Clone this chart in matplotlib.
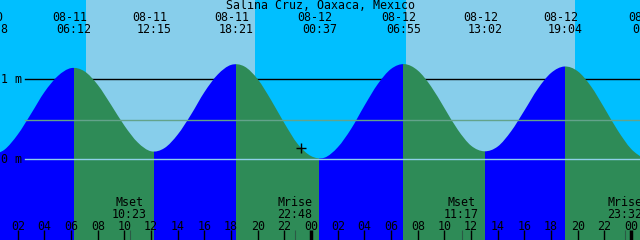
import matplotlib
matplotlib.use("Agg")
import matplotlib.pyplot as plt
from matplotlib.path import Path
from matplotlib.patches import PathPatch, Rectangle

# time axis: hours counted from 08-11 00:00
hours = list(range(0, 50))
level = [0.05, 0.12, 0.31, 0.57, 0.84, 1.04, 1.14, 1.10, 0.93, 0.68,
         0.42, 0.21, 0.10, 0.14, 0.31, 0.56, 0.84, 1.06, 1.18, 1.16,
         1.00, 0.74, 0.45, 0.19, 0.04, 0.02, 0.15, 0.38, 0.67, 0.94,
         1.13, 1.19, 1.11, 0.91, 0.64, 0.37, 0.17, 0.10, 0.16, 0.35,
         0.61, 0.88, 1.08, 1.16, 1.10, 0.91, 0.64, 0.36, 0.13, 0.00]

# high / low tides
tide_t = [-0.03, 6.2, 12.25, 18.35, 24.62, 30.92, 37.03, 43.07, 49.4]
tide_h = [0.05, 1.14, 0.10, 1.19, 0.01, 1.19, 0.095, 1.16, -0.01]
tide_date = ["08-10", "08-11", "08-11", "08-11", "08-12", "08-12", "08-12", "08-12", "08-13"]
tide_time = ["23:58", "06:12", "12:15", "18:21", "00:37", "06:55", "13:02", "19:04", "01:24"]

sunrise = [7.12, 31.12]
sunset = [19.79, 43.79]

moon_t = [10.38, 22.8, 35.28, 47.53]
moon_event = ["Mset", "Mrise", "Mset", "Mrise"]
moon_time = ["10:23", "22:48", "11:17", "23:32"]

tick_hours = list(range(2, 49, 2))
tick_labels = ["%02d" % (h % 24) for h in tick_hours]

now_t, now_level = 23.23, 0.14
msl = 0.49
title = "Salina Cruz, Oaxaca, Mexico"

NIGHT = "#00BFFF"
DAY = "#87CEEB"
FLOOD = "#0000FF"
EBB = "#2E8B57"

T0, T1 = 0.667, 48.667
PX_H = 13.333          # pixels per hour
Y0, PX_M = 159.3, 80.0  # pixel row of 0 m, pixels per metre


def py(y):
    # pixel row -> metres
    return (Y0 - y) / PX_M


def px(x):
    # pixel column -> hours
    return T0 + x / PX_H


fig = plt.figure(figsize=(6.4, 2.4), dpi=100, facecolor=NIGHT)
ax = fig.add_axes([0, 0, 1, 1])
ax.set_xlim(T0, T1)
ax.set_ylim(py(240), py(0))
ax.axis("off")

for a, b in zip(sunrise, sunset):
    ax.axvspan(a, b, color=DAY, lw=0, zorder=0)

# 1 m line sits behind the water
ax.plot([px(25), T1], [1, 1], color="black", lw=1, zorder=1)

# smooth water surface through the hourly levels
n = len(hours)
tang = []
for i in range(n):
    lo, hi = max(i - 1, 0), min(i + 1, n - 1)
    tang.append((level[hi] - level[lo]) / (hours[hi] - hours[lo]))
verts = [(hours[0], level[0])]
codes = [Path.MOVETO]
for i in range(n - 1):
    d = hours[i + 1] - hours[i]
    verts += [(hours[i] + d / 3, level[i] + tang[i] * d / 3),
              (hours[i + 1] - d / 3, level[i + 1] - tang[i + 1] * d / 3),
              (hours[i + 1], level[i + 1])]
    codes += [Path.CURVE4] * 3
verts += [(hours[-1], -3), (hours[0], -3), (hours[0], level[0])]
codes += [Path.LINETO, Path.LINETO, Path.CLOSEPOLY]
water = Path(verts, codes)

# rising water blue, falling water green
for k in range(len(tide_t) - 1):
    col = FLOOD if tide_h[k + 1] > tide_h[k] else EBB
    patch = PathPatch(water, facecolor=col, edgecolor="none", zorder=2)
    ax.add_patch(patch)
    clip = Rectangle((tide_t[k], -3), tide_t[k + 1] - tide_t[k], 6,
                     transform=ax.transData)
    patch.set_clip_path(clip)

ax.plot([px(25), T1], [msl, msl], color="#63a38b", lw=1, zorder=4)
ax.plot([px(25), T1], [0, 0], color="#8fd0ea", lw=1, zorder=4)

ax.plot(now_t, now_level, marker="+", ms=6.5, mew=1, color="black", zorder=5)

fnt = dict(family="DejaVu Sans Mono", fontsize=8.4, color="black", zorder=6)

ax.text(0.5, py(9), title, ha="center", va="baseline",
        transform=ax.get_yaxis_transform(), **fnt)

for t, d, s in zip(tide_t, tide_date, tide_time):
    ax.text(t - 4.5 / PX_H, py(21), d, ha="center", va="baseline", **fnt)
    ax.text(t, py(33), s, ha="center", va="baseline", **fnt)

ax.text(px(1), py(83), "1 m", ha="left", va="baseline", **fnt)
ax.text(px(1), py(163), "0 m", ha="left", va="baseline", **fnt)

for t, e, s in zip(moon_t, moon_event, moon_time):
    ax.text(t, py(206), e, ha="center", va="baseline", **fnt)
    ax.text(t, py(218), s, ha="center", va="baseline", **fnt)
    ax.vlines(t, py(230), py(240), color="#2b5a45", lw=0.8, zorder=5)

for h, lab in zip(tick_hours, tick_labels):
    ax.text(h, py(230), lab, ha="center", va="baseline", **fnt)
    ax.vlines(h, py(230), py(240), color="black",
              lw=2.5 if h % 24 == 0 else 1, zorder=5)

fig.savefig("out.png", dpi=100, facecolor=NIGHT)
